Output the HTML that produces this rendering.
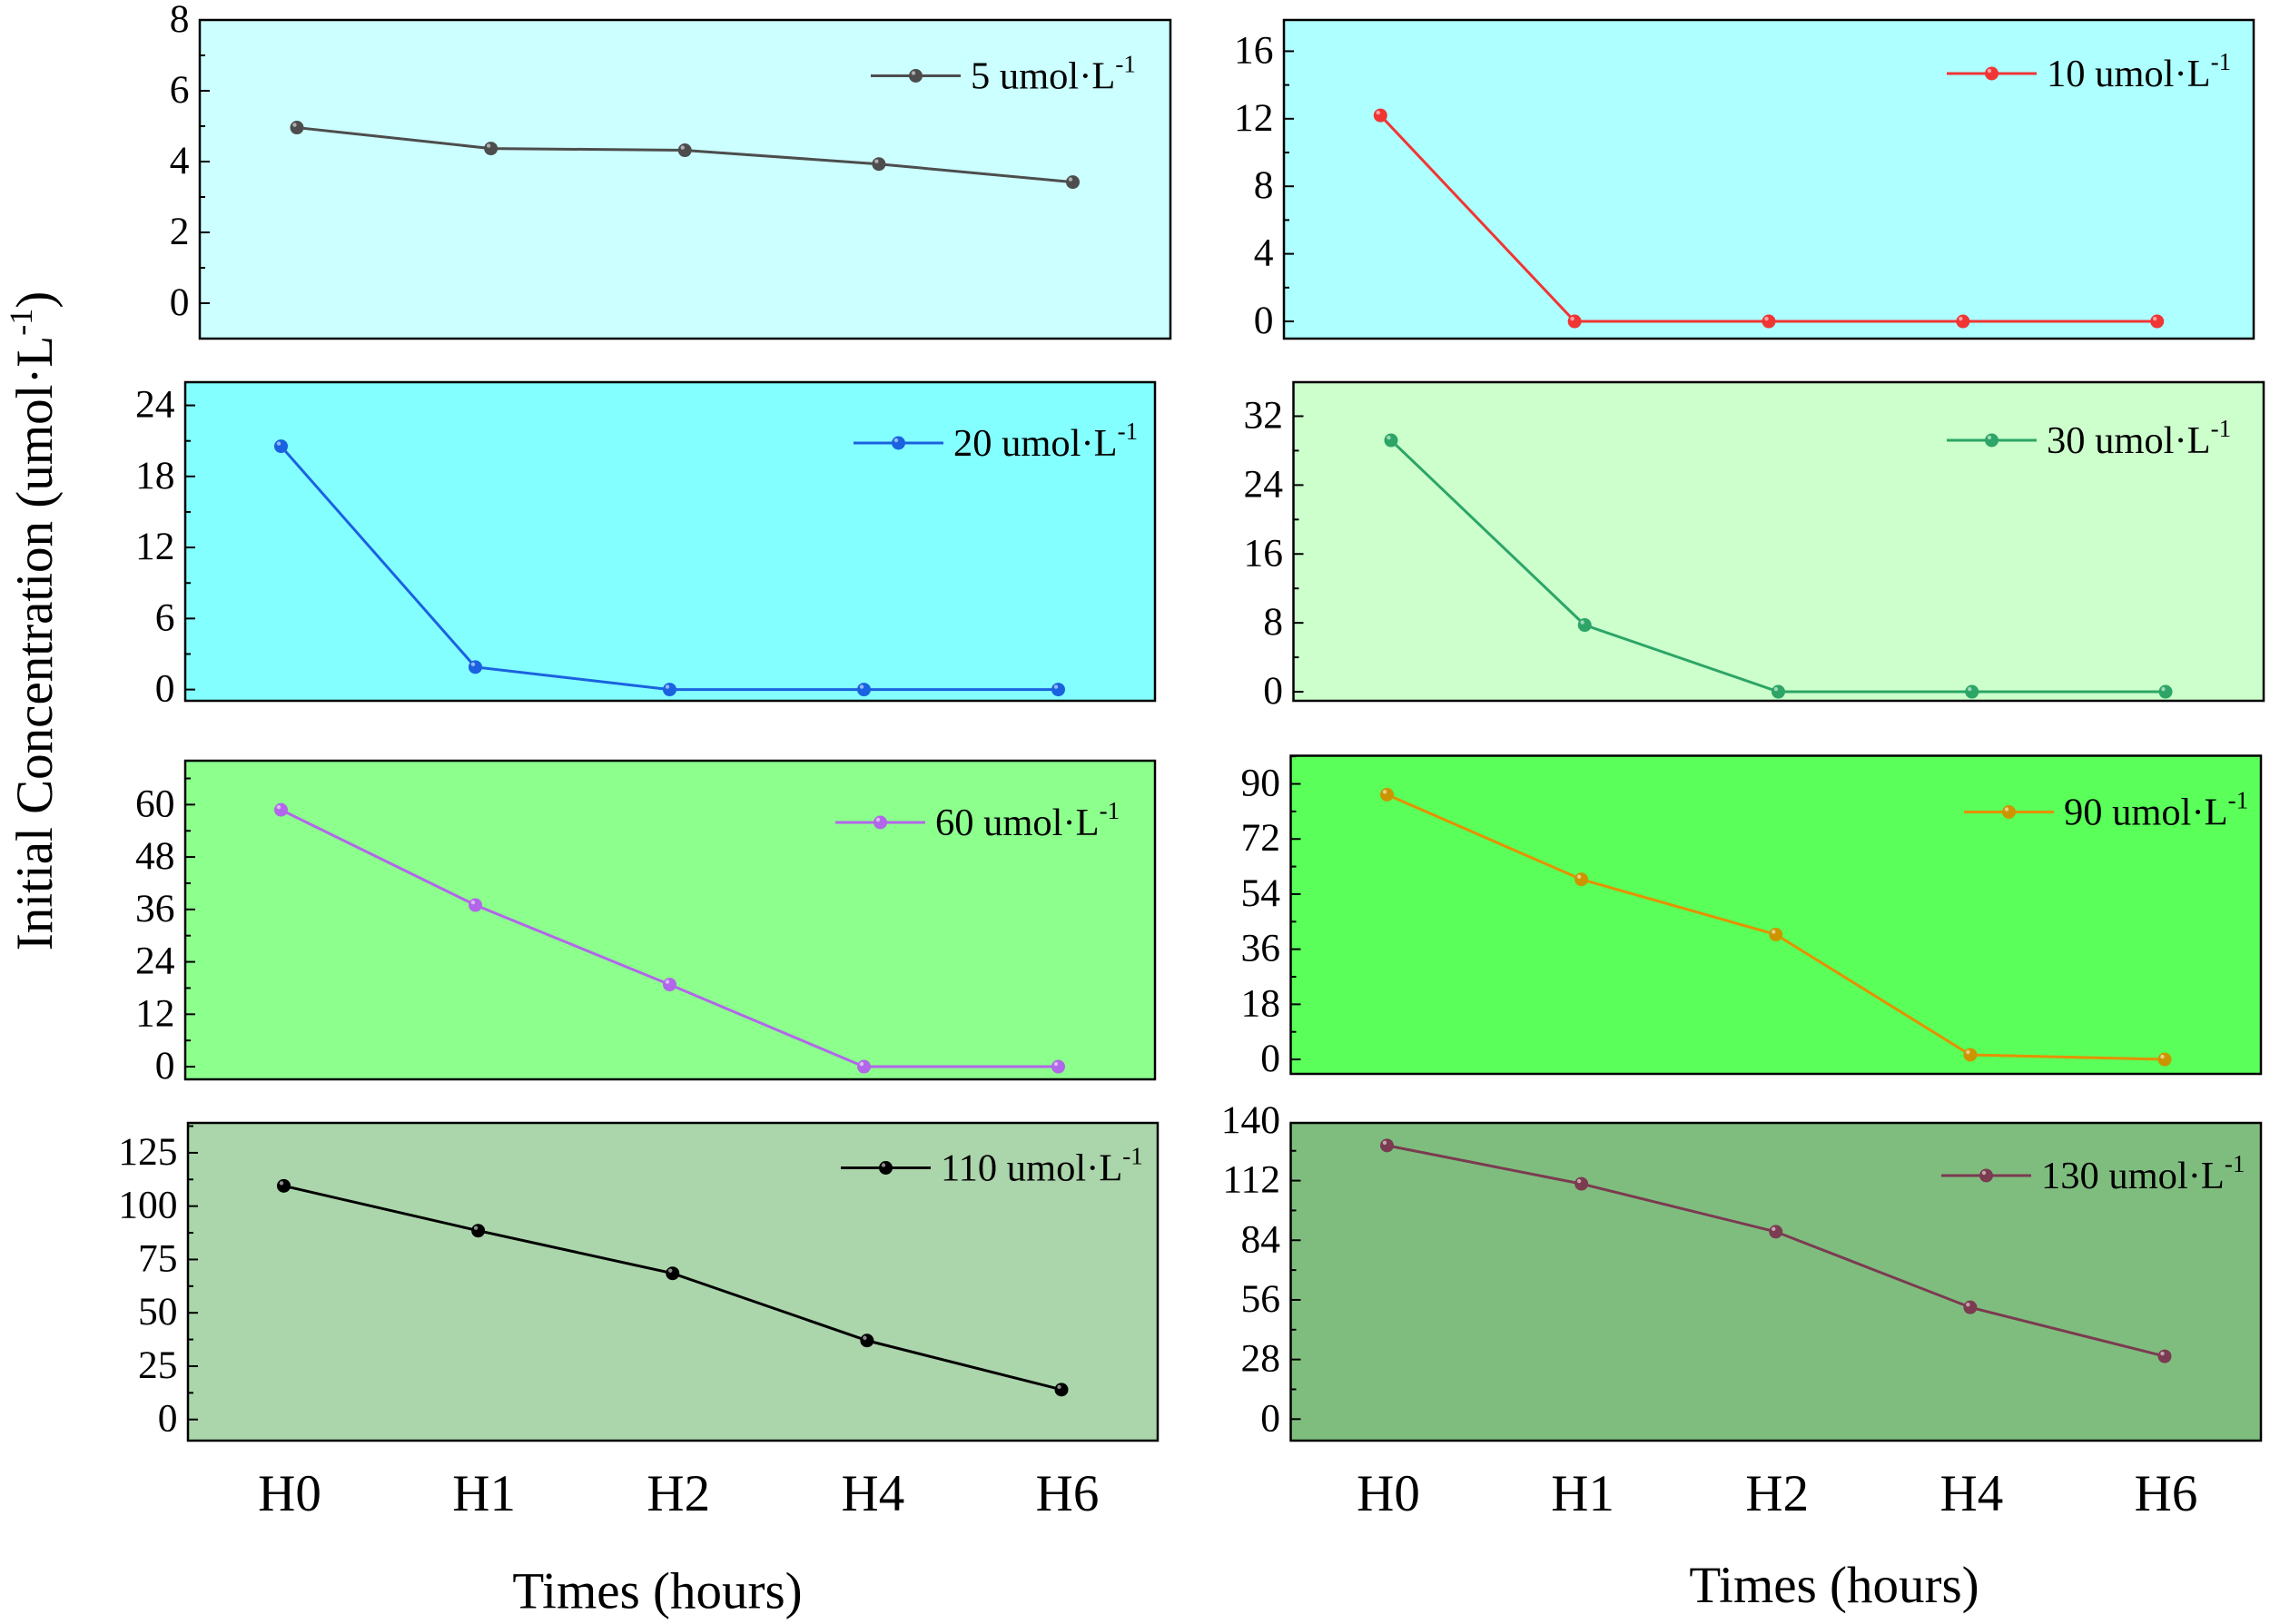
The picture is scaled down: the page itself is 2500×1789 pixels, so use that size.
<!DOCTYPE html>
<html lang="en">
<head>
<meta charset="utf-8">
<title>Initial Concentration over Time</title>
<style>
html,body{margin:0;padding:0;background:#fff;width:2500px;height:1789px;overflow:hidden}
svg{display:block;font-family:"Liberation Serif","Times New Roman",serif;fill:#000}
</style>
</head>
<body>
<svg id="chart" xmlns="http://www.w3.org/2000/svg" width="2500" height="1789" viewBox="0 0 2500 1789">
  <rect x="0" y="0" width="2500" height="1789" fill="#fff"/>
  <text transform="translate(57,684) rotate(-90)" text-anchor="middle" font-size="57">Initial Concentration (umol·L<tspan font-size="36" dy="-22">-1</tspan><tspan dy="22">)</tspan></text>
  <text x="724" y="1771.5" text-anchor="middle" font-size="57">Times (hours)</text>
  <text x="2020" y="1765" text-anchor="middle" font-size="57">Times (hours)</text>
</svg>
<script>
const categories = ['H0', 'H1', 'H2', 'H4', 'H6'];

const values5 = [4.96, 4.37, 4.32, 3.93, 3.42];
const values10 = [12.2, 0, 0, 0, 0];
const values20 = [20.55, 1.9, 0, 0, 0];
const values30 = [29.2, 7.75, 0, 0, 0];
const values60 = [58.8, 37, 18.8, 0, 0];
const values90 = [86.5, 58.8, 40.8, 1.5, 0];
const values110 = [109.5, 88.5, 68.5, 37, 14];
const values130 = [128.5, 110.5, 88, 52.5, 29.5];

const ticks5 = [0, 2, 4, 6, 8];
const ticks10 = [0, 4, 8, 12, 16];
const ticks20 = [0, 6, 12, 18, 24];
const ticks30 = [0, 8, 16, 24, 32];
const ticks60 = [0, 12, 24, 36, 48, 60];
const ticks90 = [0, 18, 36, 54, 72, 90];
const ticks110 = [0, 25, 50, 75, 100, 125];
const ticks130 = [0, 28, 56, 84, 112, 140];

const legend5 = '5 umol·L';
const legend10 = '10 umol·L';
const legend20 = '20 umol·L';
const legend30 = '30 umol·L';
const legend60 = '60 umol·L';
const legend90 = '90 umol·L';
const legend110 = '110 umol·L';
const legend130 = '130 umol·L';

const panels = [
  {id:'5',   v:values5,   t:ticks5,   name:legend5,   bg:'#CCFFFF', c:'#4d4d4d', m:'#4d4d4d', box:[220,22,1289,373],   dom:[-1,8],          px:[327,1181.5],  leg:[959,83.5]},
  {id:'10',  v:values10,  t:ticks10,  name:legend10,  bg:'#AEFFFF', c:'#f03535', m:'#f03535', box:[1414,22,2482,373],  dom:[-1.02,17.85],   px:[1520.3,2375.7], leg:[2144,81]},
  {id:'20',  v:values20,  t:ticks20,  name:legend20,  bg:'#84FFFF', c:'#1a62e0', m:'#1a62e0', box:[204,421,1272,772],  dom:[-0.95,25.96],   px:[309.5,1165.5], leg:[940,488]},
  {id:'30',  v:values30,  t:ticks30,  name:legend30,  bg:'#CCFFCC', c:'#2ca566', m:'#2ca566', box:[1424.5,421,2493,772],dom:[-1.05,35.95],  px:[1532,2385],   leg:[2144,485]},
  {id:'60',  v:values60,  t:ticks60,  name:legend60,  bg:'#8DFF8D', c:'#b266ea', m:'#b266ea', box:[204,838,1272,1189], dom:[-2.9,70.05],    px:[309.5,1165.5], leg:[920,906]},
  {id:'90',  v:values90,  t:ticks90,  name:legend90,  bg:'#5AFF5A', c:'#e69000', m:'#cc9500', box:[1421.5,832.5,2490,1183],dom:[-4.73,99.2],px:[1527.5,2384],  leg:[2163,894.5]},
  {id:'110', v:values110, t:ticks110, name:legend110, bg:'#ABD5AB', c:'#000000', m:'#000000', box:[207,1237,1275,1587], dom:[-9.9,139],     px:[312.5,1169],  leg:[926,1286.5], xLabels:319},
  {id:'130', v:values130, t:ticks130, name:legend130, bg:'#7FBD7F', c:'#7b3b50', m:'#7b3b50', box:[1421.5,1237,2490,1587],dom:[-10.1,139.1], px:[1527.5,2384], leg:[2138,1295], xLabels:1529}
];

const svg = document.getElementById('chart');
const NS = 'http://www.w3.org/2000/svg';

function make(tag, attrs, parent) {
  const node = document.createElementNS(NS, tag);
  for (const k in attrs) node.setAttribute(k, attrs[k]);
  parent.appendChild(node);
  return node;
}

function xScale(p, i) {
  return p.px[0] + (p.px[1] - p.px[0]) * i / (categories.length - 1);
}

function yScale(p, value) {
  return p.box[3] - (value - p.dom[0]) / (p.dom[1] - p.dom[0]) * (p.box[3] - p.box[1]);
}

function drawMarker(g, x, y, color) {
  const dot = make('circle', {cx:x, cy:y, r:7.5, fill:color}, g);
  
  
  const glint = make('circle', {cx:x - 2.5, cy:y - 3, r:2.2, fill:'#fff', 'fill-opacity':0.55}, g);
  
  
}

panels.forEach(function (p) {
  const g = make('g', {}, svg);
  
  

  const [l, t, r, b] = p.box;
  const bg = make('rect', {x:l, y:t, width:r - l, height:b - t, fill:p.bg, stroke:'#000', 'stroke-width':2.5}, g);
  
  

  const step = p.t[1] - p.t[0];
  for (let v = p.t[0] - step; v <= p.dom[1] + step; v += step / 2) {
    if (v < p.dom[0] || v > p.dom[1]) continue;
    const major = p.t.indexOf(v) >= 0;
    const y = yScale(p, v);
    const tick = make('line', {x1:l, x2:l + (major ? 11 : 6), y1:y, y2:y, stroke:'#000', 'stroke-width':2}, g);
    
    
  }

  p.t.forEach(function (v) {
    const label = make('text', {x:l - 11.5, y:yScale(p, v) + 13, 'text-anchor':'end', 'font-size':43.5}, g);
    label.textContent = String(v);
    
    
  });

  const pts = p.v.map(function (v, i) { return xScale(p, i) + ',' + yScale(p, v); }).join(' ');
  const line = make('polyline', {points:pts, fill:'none', stroke:p.c, 'stroke-width':3}, g);
  
  

  p.v.forEach(function (v, i) { drawMarker(g, xScale(p, i), yScale(p, v), p.m); });

  const legend = make('g', {}, g);
  
  
  const lx = p.leg[0], ly = p.leg[1];
  const sample = make('line', {x1:lx, x2:lx + 99, y1:ly, y2:ly, stroke:p.c, 'stroke-width':3}, legend);
  
  
  drawMarker(legend, lx + 49.5, ly, p.m);
  const txt = make('text', {x:lx + 110, y:ly + 14, 'font-size':42.5}, legend);
  
  
  const main = make('tspan', {}, txt);
  main.textContent = p.name;
  const sup = make('tspan', {'font-size':27, dy:-18}, txt);
  sup.textContent = '-1';

  if (p.xLabels !== undefined) {
    categories.forEach(function (c, i) {
      const cx = p.xLabels + (p.px[1] - p.px[0]) * i / (categories.length - 1);
      const lab = make('text', {x:cx, y:1664, 'text-anchor':'middle', 'font-size':57}, g);
      lab.textContent = c;
      
      
    });
  }
});
</script>
</body>
</html>
